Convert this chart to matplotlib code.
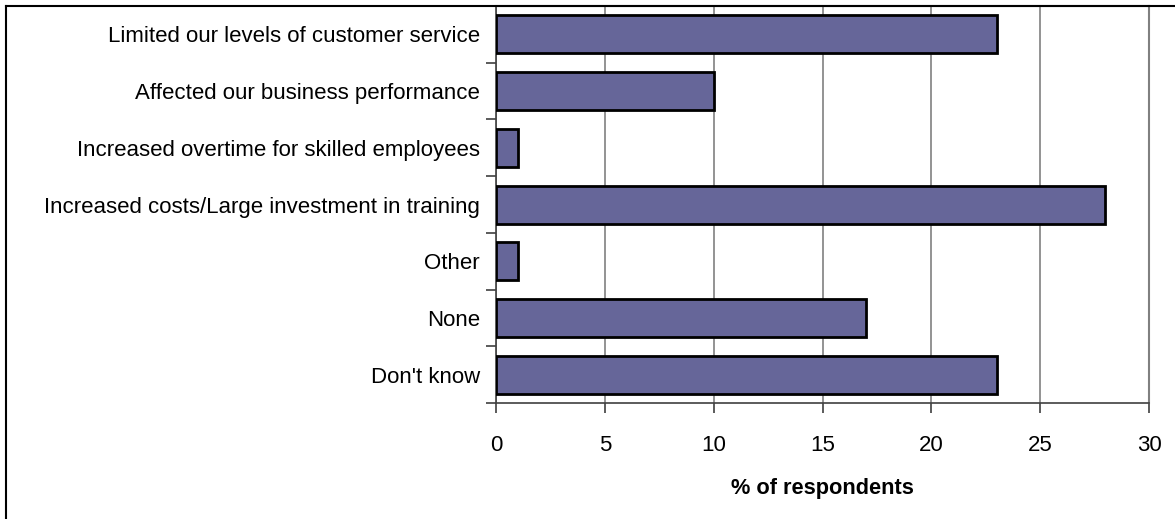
import matplotlib
matplotlib.use("Agg")
import matplotlib.pyplot as plt
from matplotlib.lines import Line2D

categories = [
    "Limited our levels of customer service",
    "Affected our business performance",
    "Increased overtime for skilled employees",
    "Increased costs/Large investment in training",
    "Other",
    "None",
    "Don't know",
]
values = [23, 10, 1, 28, 1, 17, 23]
x_ticks = [0, 5, 10, 15, 20, 25, 30]

plt.rcParams["font.family"] = ["Liberation Sans", "DejaVu Sans"]

fig = plt.figure(figsize=(11.75, 5.19), dpi=100)
ax = fig.add_axes([0.4221, 0.2235, 0.5558, 0.7649])

pos = list(range(len(categories)))
ax.barh(pos, values, height=0.67, color="#666699", edgecolor="black",
        linewidth=2, zorder=3)

ax.set_ylim(len(categories) - 0.5, -0.5)
ax.set_xlim(0, 30)
ax.set_xticks(x_ticks)
ax.set_xticklabels([str(t) for t in x_ticks], fontsize=16)
ax.xaxis.grid(True, color="#808080", linewidth=1.2, zorder=0)

# category labels sit between the boundary ticks
ax.set_yticks(pos)
ax.set_yticklabels(categories, fontsize=16)
ax.tick_params(axis="y", length=0, pad=11.5)
ax.set_yticks([p - 0.5 for p in pos] + [len(pos) - 0.5], minor=True)
ax.tick_params(axis="y", which="minor", length=7, width=1.2, color="#404040")
ax.tick_params(axis="x", length=7, width=1.2, color="#404040", pad=16)

for side in ["left", "bottom"]:
    ax.spines[side].set_color("#404040")
    ax.spines[side].set_linewidth(1.2)
for side in ["top", "right"]:
    ax.spines[side].set_color("#808080")
    ax.spines[side].set_linewidth(1.5)

ax.set_xlabel("% of respondents", fontsize=15.7, fontweight="bold", labelpad=16)

# chart frame, left and top edges
fig.add_artist(Line2D([6 / 1175, 6 / 1175], [0, 1 - 6 / 519], color="black",
                      linewidth=1.5, transform=fig.transFigure))
fig.add_artist(Line2D([6 / 1175, 1], [1 - 6 / 519, 1 - 6 / 519], color="black",
                      linewidth=1.5, transform=fig.transFigure))

fig.savefig("out.png", dpi=100)
